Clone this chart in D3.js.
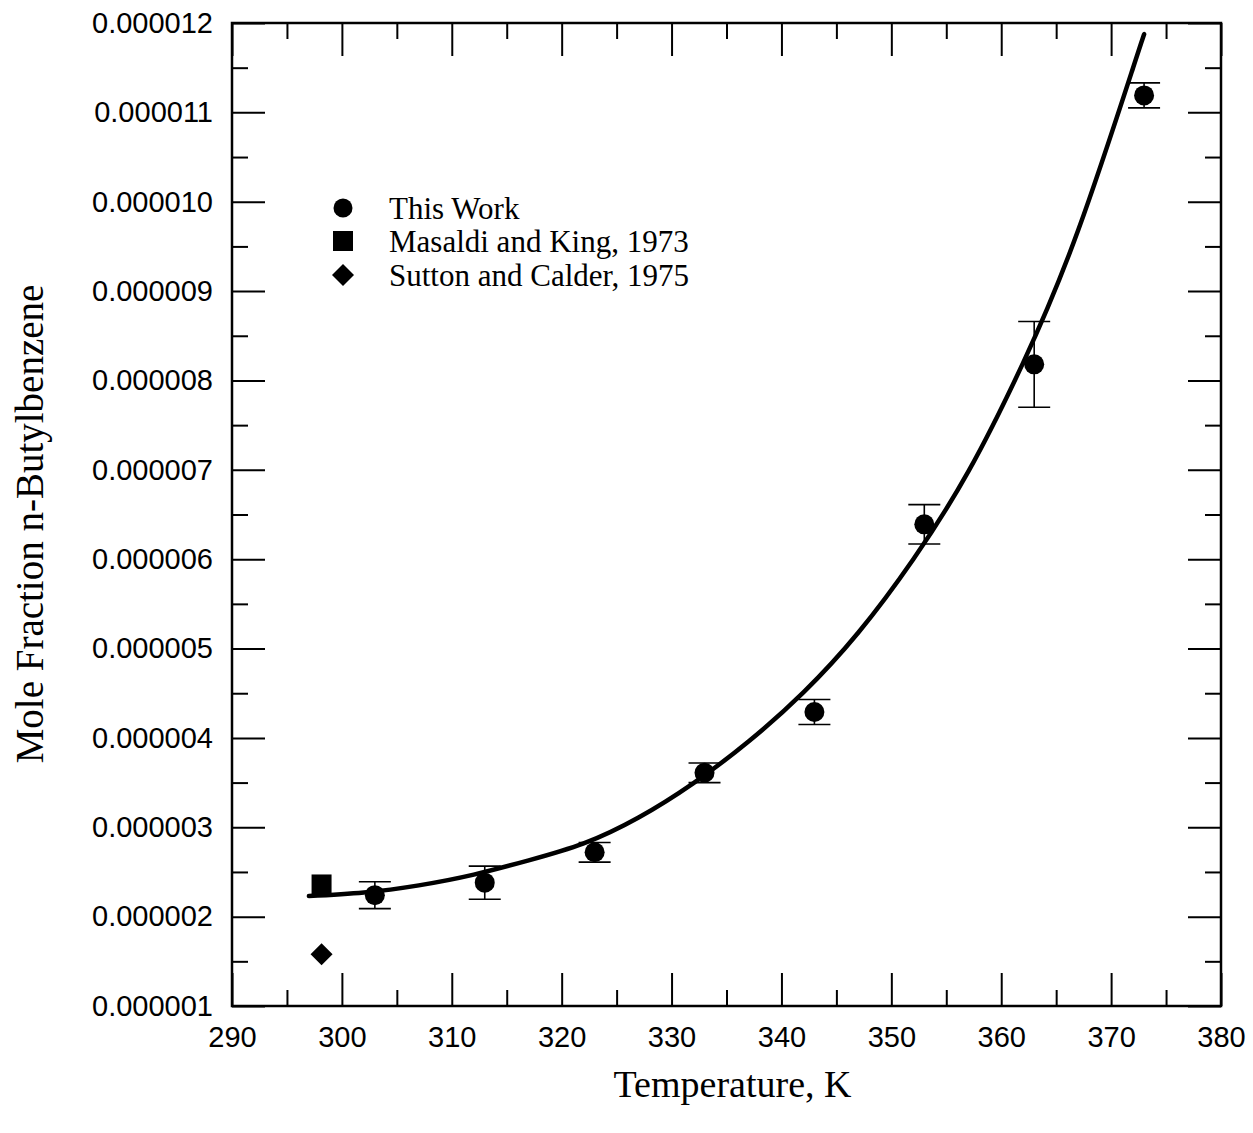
<!DOCTYPE html>
<html>
<head>
<meta charset="utf-8">
<script src="https://cdn.jsdelivr.net/npm/d3@7"></script>
<style>
  html, body { margin: 0; padding: 0; background: #fff; }
  svg { display: block; }
</style>
</head>
<body>
<div id="chart"></div>
<script>
// "This Work" measurements
const tempThis = [303, 313, 323, 333, 343, 353, 363, 373];
const fracThis = [2.24e-6, 2.38e-6, 2.72e-6, 3.61e-6, 4.29e-6, 6.39e-6, 8.18e-6, 11.19e-6];
const errThis = [0.15e-6, 0.185e-6, 0.11e-6, 0.11e-6, 0.14e-6, 0.22e-6, 0.48e-6, 0.14e-6];

// literature values
const tempMasaldi = [298.15];
const fracMasaldi = [2.36e-6];
const tempSutton = [298.15];
const fracSutton = [1.58e-6];

// fitted curve
const curveT = [297, 302, 307, 312, 317, 322, 327, 332, 337, 342, 347, 352, 357, 362, 367, 372, 373];
const curveX = [2.23e-6, 2.27e-6, 2.35e-6, 2.47e-6, 2.63e-6, 2.82e-6, 3.11e-6, 3.495e-6, 3.96e-6, 4.51e-6, 5.18e-6, 6.00e-6, 6.98e-6, 8.20e-6, 9.68e-6, 11.50e-6, 11.87e-6];

const xMajor = [290, 300, 310, 320, 330, 340, 350, 360, 370, 380];
const xMinor = [295, 305, 315, 325, 335, 345, 355, 365, 375];
const yMajor = [1e-6, 2e-6, 3e-6, 4e-6, 5e-6, 6e-6, 7e-6, 8e-6, 9e-6, 10e-6, 11e-6, 12e-6];
const yMinor = [1.5e-6, 2.5e-6, 3.5e-6, 4.5e-6, 5.5e-6, 6.5e-6, 7.5e-6, 8.5e-6, 9.5e-6, 10.5e-6, 11.5e-6];

const legendNames = ["This Work", "Masaldi and King, 1973", "Sutton and Calder, 1975"];

(() => {
    const W = 1253, H = 1133;
    const pLeft = 232, pRight = 1221, pTop = 23, pBottom = 1006;

    const svg = d3.select("#chart").append("svg")
        .attr("width", W)
        .attr("height", H)
        .style("background", "#fff");

    const x = d3.scaleLinear().domain([290, 380]).range([pLeft, pRight]);
    const y = d3.scaleLinear().domain([1e-6, 12e-6]).range([pBottom, pTop]);

    const tickFont = "'Liberation Sans', Arial, sans-serif";
    const serif = "'Liberation Serif', 'Times New Roman', serif";

    // axes (ticks pointing inward)
    function styleAxis(g) {
        g.select(".domain").remove();
        g.selectAll("line").attr("stroke", "#000").attr("stroke-width", 2);
        g.selectAll("text").attr("fill", "#000").style("font-family", tickFont).style("font-size", "29px");
    }

    svg.append("g").attr("transform", `translate(0,${pBottom})`)
        .call(d3.axisBottom(x).tickValues(xMajor).tickSize(-33).tickPadding(20).tickFormat(d3.format("d")))
        .call(styleAxis);
    svg.append("g").attr("transform", `translate(0,${pBottom})`)
        .call(d3.axisBottom(x).tickValues(xMinor).tickSize(-16).tickFormat(""))
        .call(styleAxis);
    svg.append("g").attr("transform", `translate(0,${pTop})`)
        .call(d3.axisTop(x).tickValues(xMajor).tickSize(-33).tickFormat(""))
        .call(styleAxis);
    svg.append("g").attr("transform", `translate(0,${pTop})`)
        .call(d3.axisTop(x).tickValues(xMinor).tickSize(-16).tickFormat(""))
        .call(styleAxis);

    svg.append("g").attr("transform", `translate(${pLeft},0)`)
        .call(d3.axisLeft(y).tickValues(yMajor).tickSize(-33).tickPadding(19).tickFormat(d3.format(".6f")))
        .call(styleAxis);
    svg.append("g").attr("transform", `translate(${pLeft},0)`)
        .call(d3.axisLeft(y).tickValues(yMinor).tickSize(-16).tickFormat(""))
        .call(styleAxis);
    svg.append("g").attr("transform", `translate(${pRight},0)`)
        .call(d3.axisRight(y).tickValues(yMajor).tickSize(-33).tickFormat(""))
        .call(styleAxis);
    svg.append("g").attr("transform", `translate(${pRight},0)`)
        .call(d3.axisRight(y).tickValues(yMinor).tickSize(-16).tickFormat(""))
        .call(styleAxis);

    // frame
    svg.append("rect")
        .attr("x", pLeft).attr("y", pTop)
        .attr("width", pRight - pLeft).attr("height", pBottom - pTop)
        .attr("fill", "none").attr("stroke", "#000").attr("stroke-width", 2.5);

    // fitted curve
    const line = d3.line()
        .x(d => x(d[0]))
        .y(d => y(d[1]))
        .curve(d3.curveNatural);

    svg.append("path")
        .datum(curveT.map((t, i) => [t, curveX[i]]))
        .attr("d", line)
        .attr("fill", "none")
        .attr("stroke", "#000")
        .attr("stroke-width", 4.5)
        .attr("stroke-linecap", "round");

    // error bars
    const pts = tempThis.map((t, i) => ({ t: t, v: fracThis[i], e: errThis[i] }));
    const capW = 16;
    const eb = svg.append("g").attr("stroke", "#000").attr("stroke-width", 1.6);
    pts.forEach(d => {
        eb.append("line")
            .attr("x1", x(d.t)).attr("x2", x(d.t))
            .attr("y1", y(d.v - d.e)).attr("y2", y(d.v + d.e));
        eb.append("line")
            .attr("x1", x(d.t) - capW).attr("x2", x(d.t) + capW)
            .attr("y1", y(d.v + d.e)).attr("y2", y(d.v + d.e));
        eb.append("line")
            .attr("x1", x(d.t) - capW).attr("x2", x(d.t) + capW)
            .attr("y1", y(d.v - d.e)).attr("y2", y(d.v - d.e));
    });

    // markers
    svg.append("g").selectAll("circle")
        .data(pts)
        .join("circle")
        .attr("cx", d => x(d.t))
        .attr("cy", d => y(d.v))
        .attr("r", 10)
        .attr("fill", "#000");

    const sqSym = d3.symbol().type(d3.symbolSquare).size(400);
    const diaSym = d3.symbol().type(d3.symbolDiamond2).size(310);

    svg.append("g").selectAll("path")
        .data(tempMasaldi.map((t, i) => [t, fracMasaldi[i]]))
        .join("path")
        .attr("d", sqSym)
        .attr("transform", d => `translate(${x(d[0])},${y(d[1])})`)
        .attr("fill", "#000");

    svg.append("g").selectAll("path")
        .data(tempSutton.map((t, i) => [t, fracSutton[i]]))
        .join("path")
        .attr("d", diaSym)
        .attr("transform", d => `translate(${x(d[0])},${y(d[1])})`)
        .attr("fill", "#000");

    // legend
    const legend = svg.append("g");
    const rowY = [208, 241, 275];
    legend.append("circle").attr("cx", 343).attr("cy", rowY[0]).attr("r", 9.5).attr("fill", "#000");
    legend.append("path").attr("d", sqSym).attr("transform", `translate(343,${rowY[1]})`).attr("fill", "#000");
    legend.append("path").attr("d", diaSym).attr("transform", `translate(343,${rowY[2]})`).attr("fill", "#000");
    legend.selectAll("text")
        .data(legendNames)
        .join("text")
        .attr("x", 389)
        .attr("y", (d, i) => rowY[i] + 11)
        .style("font-family", serif)
        .style("font-size", "31px")
        .attr("fill", "#000")
        .text(d => d);

    // axis titles
    svg.append("text")
        .attr("x", (pLeft + pRight) / 2 + 6)
        .attr("y", 1097)
        .attr("text-anchor", "middle")
        .style("font-family", serif)
        .style("font-size", "38px")
        .text("Temperature, K");

    svg.append("text")
        .attr("transform", `translate(43,524) rotate(-90)`)
        .attr("text-anchor", "middle")
        .style("font-family", serif)
        .style("font-size", "39px")
        .text("Mole Fraction n-Butylbenzene");
})();
</script>
</body>
</html>
